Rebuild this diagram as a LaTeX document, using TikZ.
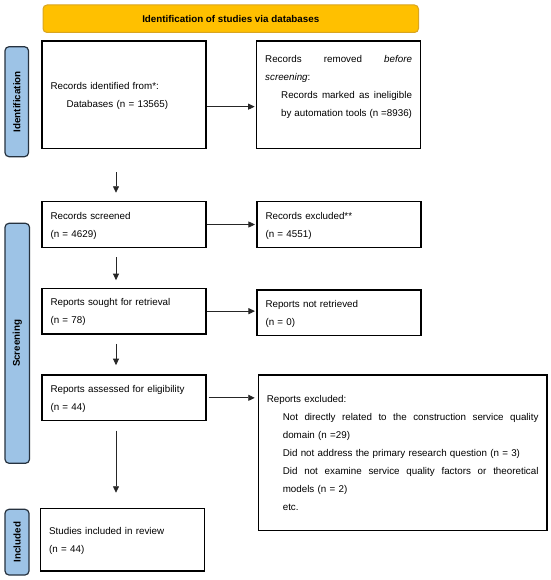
\documentclass[tikz,border=0pt]{standalone}
\usepackage{fontspec}
\setmainfont{Liberation Sans}
\usetikzlibrary{arrows.meta}
\definecolor{hdrfill}{HTML}{FFC000}
\definecolor{hdrline}{HTML}{D9A520}
\definecolor{labfill}{HTML}{9DC3E6}
\definecolor{labline}{HTML}{26323F}
\newcommand{\ind}{\hspace*{16pt}}
\begin{document}
\begin{tikzpicture}[x=1pt,y=-1pt,
  box/.style={draw=black, line width=1.1pt, inner xsep=8.5pt, inner ysep=0pt, align=left,
    font=\fontsize{9.8}{18}\selectfont},
  hdr/.style={draw=hdrline, fill=hdrfill, line width=1pt, rounded corners=4pt,
    minimum width=375.5pt, minimum height=27.5pt, inner sep=0pt,
    font=\bfseries\fontsize{9.8}{12}\selectfont},
  sidelab/.style={draw=labline, fill=labfill, line width=1.2pt, rounded corners=4pt,
    rotate=90, inner sep=0pt, font=\bfseries\fontsize{9.8}{12}\selectfont},
  arr/.style={line width=0.8pt, draw=black!85, -{Triangle[length=6.5pt,width=6pt]}}]
\fill[white] (0,0) rectangle (550,580);
\useasboundingbox (0,0) rectangle (550,580);

\node[hdr] (hd) at (230.75,18.75) {Identification of studies via databases};

\node[sidelab, minimum width=110pt, minimum height=23.5pt] (l1) at (16.75,101.7) {Identification};
\node[sidelab, minimum width=240pt, minimum height=24.5pt] (l2) at (17.25,343.3) {Screening};
\node[sidelab, minimum width=65.7pt, minimum height=24pt] (l3) at (17,542.15) {Included};

\node[box, text width=147pt, minimum height=107.3pt] (b1) at (124,94.65)
  {\strut Records identified from*:\\ \ind Databases (n = 13565)\strut};
\node[box, text width=146.8pt, minimum height=107.3pt] (b2) at (338.6,94.65)
  {\strut\hbox to 146.8pt{Records\hfill removed\hfill\emph{before}}\\
   \emph{screening}:\\
   \ind\hbox to 130.8pt{Records\hfill marked\hfill as\hfill ineligible}\\
   \ind\hbox to 130.8pt{by\hfill automation\hfill tools\hfill (n\hfill =8936)}\\
   \strut};

\node[box, text width=147pt, minimum height=45.6pt] (b3) at (124,224.5)
  {\strut Records screened\\ (n = 4629)\strut};
\node[box, text width=147pt, minimum height=45.6pt] (b4) at (339,224.5)
  {\strut Records excluded**\\ (n = 4551)\strut};

\node[box, text width=147pt, minimum height=45.7pt] (b5) at (124,311.15)
  {\strut Reports sought for retrieval\\ (n = 78)\strut};
\node[box, text width=147pt, minimum height=45.7pt] (b6) at (339,312.85)
  {\strut Reports not retrieved\\ (n = 0)\strut};

\node[box, text width=147pt, minimum height=45.7pt] (b7) at (124,397.85)
  {\strut Reports assessed for eligibility\\ (n = 44)\strut};
\node[box, text width=271.7pt, minimum height=155.5pt] (b8) at (402.65,452.75)
  {\strut Reports excluded:\\
   \ind\hbox to 255.7pt{Not\hfill directly\hfill related\hfill to\hfill the\hfill construction\hfill service\hfill quality}\\
   \ind domain (n =29)\\
   \ind Did not address the primary research question (n = 3)\\
   \ind\hbox to 255.7pt{Did\hfill not\hfill examine\hfill service\hfill quality\hfill factors\hfill or\hfill theoretical}\\
   \ind models (n = 2)\\
   \ind etc.\strut};

\node[box, text width=146.8pt, minimum height=62.7pt] (b9) at (122.6,539.65)
  {\strut Studies included in review\\ (n = 44)\strut};

\draw[arr, shorten >=1.5pt] ([yshift=-12pt]b1.east) -- ([yshift=-12pt]b2.west);
\draw[arr, shorten >=1.5pt] (b3.east) -- (b3.east -| b4.west);
\draw[arr, shorten >=1.5pt] (b5.east) -- (b5.east -| b6.west);
\draw[arr, shorten <=2pt, shorten >=3pt] (b7.east) -- (b7.east -| b8.west);

\draw[arr, shorten <=23.4pt, shorten >=8.4pt] ([xshift=-8pt]b1.south) -- ([xshift=-8pt]b3.north);
\draw[arr, shorten <=9.4pt, shorten >=7.6pt] ([xshift=-8pt]b3.south) -- ([xshift=-8pt]b5.north);
\draw[arr, shorten <=9.3pt, shorten >=9.3pt] ([xshift=-8pt]b5.south) -- ([xshift=-8pt]b7.north);
\draw[arr, shorten <=9.3pt, shorten >=15pt] ([xshift=-8pt]b7.south) -- ([xshift=-8pt]b7.south |- b9.north);
\end{tikzpicture}
\end{document}
